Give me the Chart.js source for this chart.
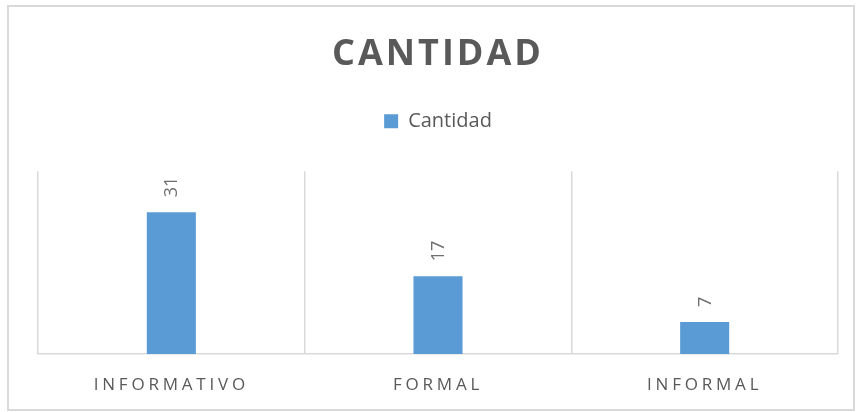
<!DOCTYPE html>
<html>
<head>
<meta charset="utf-8">
<script src="https://cdn.jsdelivr.net/npm/chart.js@4.4.1/dist/chart.umd.min.js"></script>
<style>
  html, body { margin: 0; padding: 0; background: #fff; }
  #box {
    position: absolute; left: 7px; top: 5px;
    width: 848px; height: 406px;
    box-sizing: border-box;
    border: 2px solid #d9d9d9;
  }
  #chart { display: block; }
</style>
</head>
<body>
<div id="box"><canvas id="chart" width="844" height="402"></canvas></div>
<script>
// data
const chartTitle = 'CANTIDAD';
const seriesName = 'Cantidad';
const categories = ['INFORMATIVO', 'FORMAL', 'INFORMAL'];
const cantidad = [31, 17, 7];

const grey = '#595959';
const barColor = '#5b9bd5';

// letter spacing for the title and the x labels (canvas supports it, Chart.js doesn't expose it)
function spaced(obj, method, spacing) {
  if (!obj || obj['_sp_' + method]) return;
  const orig = obj[method];
  obj[method] = function () {
    const c = this.ctx;
    const prev = c.letterSpacing;
    c.letterSpacing = spacing;
    orig.apply(this, arguments);
    c.letterSpacing = prev || '0px';
  };
  obj['_sp_' + method] = true;
}

const tweaks = {
  id: 'tweaks',
  beforeUpdate(chart) {
    const lg = chart.legend;
    if (lg && !lg._tall) {
      const fit = lg.fit;
      lg.fit = function () { fit.call(this); this.height += 30; };
      lg._tall = true;
    }
  },
  beforeDraw(chart) {
    spaced(chart.titleBlock, 'draw', '3px');
    spaced(chart.scales.x, 'drawLabels', '3.8px');
  },
  afterDatasetsDraw(chart) {
    const ctx = chart.ctx;
    const meta = chart.getDatasetMeta(0);
    ctx.save();
    ctx.fillStyle = '#6f6f6f';
    ctx.font = '18px "Open Sans"';
    ctx.textAlign = 'left';
    ctx.textBaseline = 'middle';
    meta.data.forEach((bar, i) => {
      ctx.save();
      ctx.translate(bar.x + 1, bar.y - 15);
      ctx.rotate(-Math.PI / 2);
      ctx.fillText(String(cantidad[i]), 0, 0);
      ctx.restore();
    });
    ctx.restore();
  }
};

new Chart(document.getElementById('chart'), {
  type: 'bar',
  data: {
    labels: categories,
    datasets: [{
      label: seriesName,
      data: cantidad,
      backgroundColor: barColor,
      borderWidth: 0,
      barPercentage: 0.184,
      categoryPercentage: 1
    }]
  },
  options: {
    responsive: false,
    animation: false,
    layout: { padding: { top: 0, left: 29, right: 15, bottom: 0 } },
    plugins: {
      title: {
        display: true,
        text: chartTitle,
        color: grey,
        font: { family: '"Open Sans"', size: 36, weight: 'bold' },
        padding: { top: 26, bottom: 25 }
      },
      legend: {
        display: true,
        labels: {
          color: grey,
          boxWidth: 14,
          boxHeight: 14,
          font: { family: '"Open Sans"', size: 20 }
        }
      },
      tooltip: { enabled: false }
    },
    scales: {
      x: {
        grid: { color: '#d9d9d9', lineWidth: 1.5, drawTicks: false, offset: true },
        border: { color: '#d9d9d9', width: 1.5 },
        ticks: { color: grey, padding: 21, font: { family: '"Open Sans"', size: 17 } },
        afterFit(s) { s.height = 55; }
      },
      y: {
        display: false,
        min: 0,
        max: 40
      }
    }
  },
  plugins: [tweaks]
});
</script>
</body>
</html>
